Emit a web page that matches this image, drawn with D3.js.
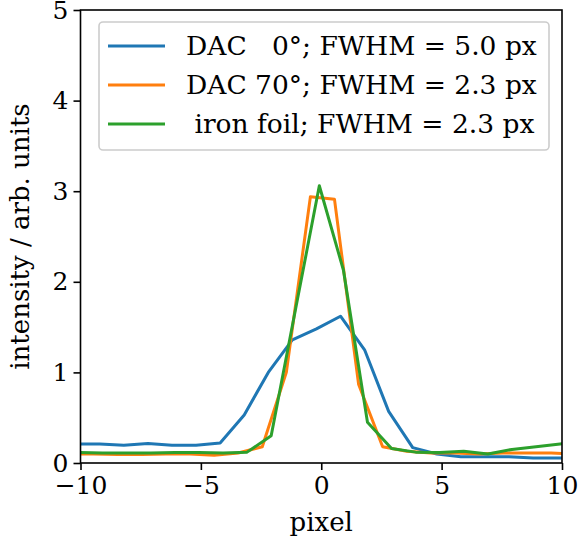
<!DOCTYPE html>
<html>
<head>
<meta charset="utf-8">
<script src="https://cdn.jsdelivr.net/npm/d3@7"></script>
<style>
  body { margin: 0; background: #fff; }
  text { font-family: "DejaVu Serif", serif; fill: #000; }
</style>
</head>
<body>
<div id="chart"></div>
<script>
// profiles through the beam spot, centred on the fitted peak
const pixelDac0 = [-10.2, -9.2, -8.2, -7.2, -6.2, -5.2, -4.2, -3.2, -2.2, -1.2, -0.2, 0.8, 1.8, 2.8, 3.8, 4.8, 5.8, 6.8, 7.8, 8.8, 9.8, 10.8];
const intensityDac0 = [0.21, 0.21, 0.195, 0.215, 0.195, 0.195, 0.22, 0.53, 1.0, 1.36, 1.48, 1.62, 1.25, 0.57, 0.17, 0.10, 0.07, 0.07, 0.07, 0.055, 0.055, 0.055];

const pixelDac70 = [-10.45, -9.45, -8.45, -7.45, -6.45, -5.45, -4.45, -3.45, -2.45, -1.45, -0.45, 0.55, 1.55, 2.55, 3.55, 4.55, 5.55, 6.55, 7.55, 8.55, 9.55, 10.55];
const intensityDac70 = [0.10, 0.10, 0.095, 0.095, 0.10, 0.10, 0.085, 0.11, 0.18, 1.0, 2.94, 2.91, 0.87, 0.18, 0.13, 0.11, 0.11, 0.10, 0.11, 0.11, 0.11, 0.10];

const pixelFoil = [-10.08, -9.08, -8.08, -7.08, -6.08, -5.08, -4.08, -3.08, -2.08, -1.08, -0.08, 0.92, 1.92, 2.92, 3.92, 4.92, 5.92, 6.92, 7.92, 8.92, 9.92, 10.92];
const intensityFoil = [0.115, 0.11, 0.11, 0.11, 0.115, 0.115, 0.11, 0.12, 0.30, 1.68, 3.06, 2.13, 0.45, 0.16, 0.12, 0.115, 0.13, 0.10, 0.15, 0.18, 0.21, 0.24];

const seriesNames = ["DAC   0°; FWHM = 5.0 px", "DAC 70°; FWHM = 2.3 px", " iron foil; FWHM = 2.3 px"];
const seriesColors = ["#1f77b4", "#ff7f0e", "#2ca02c"];
const xTicks = [-10, -5, 0, 5, 10];
const yTicks = [0, 1, 2, 3, 4, 5];

const width = 579, height = 549;
const margin = { left: 80.5, right: 17, top: 10, bottom: 86 };

const svg = d3.select("#chart").append("svg")
  .attr("width", width)
  .attr("height", height);

const x = d3.scaleLinear().domain([-10, 10]).range([margin.left, width - margin.right]);
const y = d3.scaleLinear().domain([0, 5]).range([height - margin.bottom, margin.top]);

svg.append("clipPath").attr("id", "plot-clip")
  .append("rect")
  .attr("x", x(-10)).attr("y", y(5))
  .attr("width", x(10) - x(-10)).attr("height", y(0) - y(5));

const series = [
  { xs: pixelDac0, ys: intensityDac0 },
  { xs: pixelDac70, ys: intensityDac70 },
  { xs: pixelFoil, ys: intensityFoil }
];

const line = d3.line().x((d) => x(d[0])).y((d) => y(d[1]));

svg.append("g").attr("clip-path", "url(#plot-clip)")
  .selectAll("path")
  .data(series)
  .enter()
  .append("path")
  .attr("d", (s) => line(s.xs.map((v, i) => [v, s.ys[i]])))
  .attr("fill", "none")
  .attr("stroke", (s, i) => seriesColors[i])
  .attr("stroke-width", 3)
  .attr("stroke-linejoin", "round")
  .attr("stroke-linecap", "square");

// axes
const fmt = (d) => (d < 0 ? "\u2212" + Math.abs(d) : String(d));

const xAxis = svg.append("g")
  .attr("transform", `translate(0,${y(0)})`)
  .call(d3.axisBottom(x).tickValues(xTicks).tickFormat(fmt).tickSize(7).tickPadding(6));

const yAxis = svg.append("g")
  .attr("transform", `translate(${x(-10)},0)`)
  .call(d3.axisLeft(y).tickValues(yTicks).tickFormat(fmt).tickSize(7).tickPadding(5));

[xAxis, yAxis].forEach((g) => {
  g.select(".domain").remove();
  g.selectAll(".tick line").attr("stroke", "#000").attr("stroke-width", 1.6);
  g.selectAll(".tick text")
    .style("font-family", "DejaVu Serif")
    .style("font-size", "25px")
    .attr("fill", "#000");
});

svg.append("rect")
  .attr("x", x(-10)).attr("y", y(5))
  .attr("width", x(10) - x(-10)).attr("height", y(0) - y(5))
  .attr("fill", "none")
  .attr("stroke", "#000")
  .attr("stroke-width", 1.6);

svg.append("text")
  .attr("x", (x(-10) + x(10)) / 2)
  .attr("y", 531)
  .attr("text-anchor", "middle")
  .style("font-size", "26px")
  .text("pixel");

svg.append("text")
  .attr("transform", `translate(29,${(y(0) + y(5)) / 2}) rotate(-90)`)
  .attr("text-anchor", "middle")
  .style("font-size", "26px")
  .text("intensity / arb. units");

// legend
const legend = svg.append("g");
legend.append("rect")
  .attr("x", 99).attr("y", 22)
  .attr("width", 450).attr("height", 128)
  .attr("rx", 4)
  .attr("fill", "#fff").attr("fill-opacity", 0.8)
  .attr("stroke", "#cccccc").attr("stroke-width", 1.6);

const rows = legend.selectAll("g.row")
  .data(seriesNames)
  .enter()
  .append("g")
  .attr("class", "row")
  .attr("transform", (d, i) => `translate(0,${46 + i * 39})`);

rows.append("line")
  .attr("x1", 108).attr("x2", 165)
  .attr("stroke", (d, i) => seriesColors[i])
  .attr("stroke-width", 3);

rows.append("text")
  .attr("x", 186)
  .attr("dy", "0.35em")
  .attr("xml:space", "preserve")
  .style("white-space", "pre")
  .style("font-size", "26.5px")
  .text((d) => d);
</script>
</body>
</html>
